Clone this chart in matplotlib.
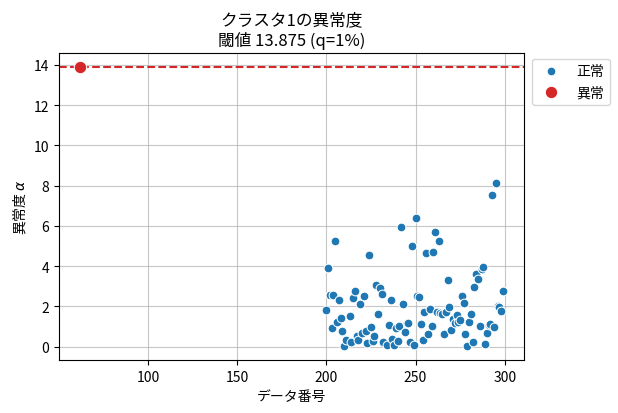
import matplotlib
matplotlib.use("Agg")
import matplotlib.pyplot as plt
import numpy as np

plt.rcParams['font.family'] = ['Noto Sans CJK JP', 'DejaVu Sans']

normal_idx = [200, 201, 202, 203, 204, 205, 206, 207, 208, 209, 210, 211, 213, 214, 215, 216,
              217, 218, 219, 220, 221, 222, 223, 224, 225, 226, 227, 228, 229, 230, 231, 232,
              234, 235, 236, 237, 238, 239, 240, 241, 242, 243, 244, 245, 246, 247, 248, 249,
              250, 251, 252, 253, 254, 255, 256, 257, 258, 259, 260, 261, 262, 263, 264, 265,
              266, 267, 268, 269, 270, 271, 272, 273, 274, 275, 276, 277, 278, 279, 280, 281,
              282, 283, 284, 285, 286, 287, 288, 289, 290, 291, 292, 293, 294, 295, 296, 297,
              298, 299]
normal_val = [1.80, 3.91, 2.56, 0.91, 2.56, 5.23, 1.25, 2.34, 1.40, 0.78, 0.03, 0.35, 1.50, 0.23, 2.44, 2.77,
              0.54, 0.35, 2.11, 0.68, 2.54, 0.76, 0.18, 4.54, 0.98, 0.28, 0.54, 3.04, 1.63, 2.89, 2.61, 0.21,
              0.07, 1.10, 2.34, 0.38, 0.08, 0.91, 0.28, 1.04, 5.96, 2.14, 0.71, 1.17, 1.17, 0.23, 5.01, 0.08,
              6.37, 2.54, 2.49, 1.14, 0.35, 1.70, 4.65, 0.64, 1.85, 1.04, 4.70, 5.71, 1.73, 5.26, 1.67, 1.62,
              0.64, 1.73, 3.32, 1.98, 0.84, 1.39, 1.17, 1.55, 1.22, 1.30, 2.54, 2.18, 0.64, 0.03, 1.22, 1.62,
              0.23, 2.94, 3.61, 3.38, 1.04, 3.88, 3.98, 0.12, 0.68, 1.07, 1.14, 7.54, 0.98, 8.12, 2.04, 1.98,
              1.77, 2.77]
anomaly_idx = [62]
anomaly_val = [13.90]
threshold = 13.875
labels = ['正常', '異常']

fig = plt.figure(figsize=(6.18, 4.14), dpi=100)
ax = fig.add_axes([0.0955, 0.128, 0.7525, 0.7416])

ax.scatter(normal_idx, normal_val, s=40, color='#1f77b4', edgecolors='white', linewidths=0.75,
           label=labels[0], zorder=3)
ax.scatter(anomaly_idx, anomaly_val, s=80, color='#d62728', edgecolors='white', linewidths=0.75,
           label=labels[1], zorder=3)
ax.axhline(threshold, color='#d62728', linestyle='--', linewidth=1.5, zorder=2)

ax.grid(True, color='#b0b0b0', linewidth=0.8, alpha=0.7)
ax.set_axisbelow(True)
ax.set_xticks([100, 150, 200, 250, 300])
ax.set_yticks([0, 2, 4, 6, 8, 10, 12, 14])

ax.set_title('クラスタ1の異常度\n閾値 13.875 (q=1%)', fontsize=12)
ax.set_xlabel('データ番号', fontsize=10)
ax.set_ylabel('異常度 $\\alpha$', fontsize=10)
ax.tick_params(labelsize=10)

ax.legend(loc='upper left', bbox_to_anchor=(1.005, 1.0), fontsize=10, borderaxespad=0.4)

fig.savefig('out.png', dpi=100)
